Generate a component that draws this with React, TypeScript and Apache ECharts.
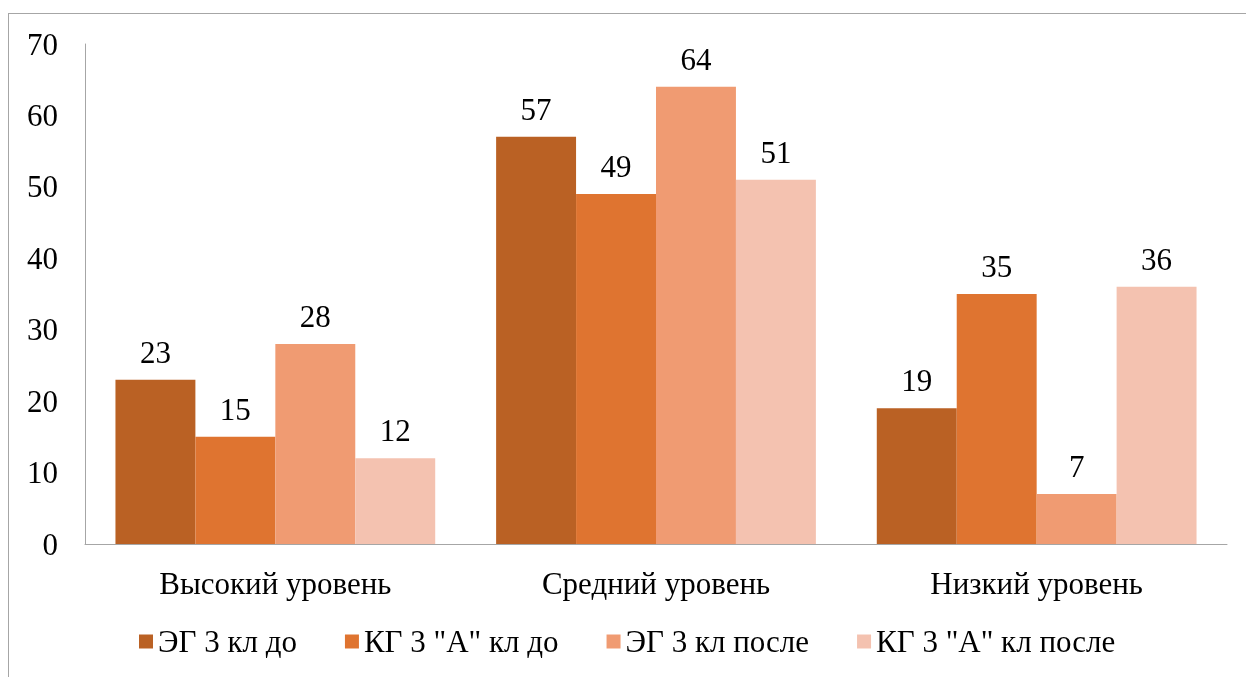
import React, { useEffect, useRef } from "react";
import * as echarts from "echarts";

const categories = ["Высокий уровень", "Средний уровень", "Низкий уровень"];
const seriesNames = ["ЭГ 3 кл до", "КГ 3 \"А\" кл до", "ЭГ 3 кл после", "КГ 3 \"А\" кл после"];
const egBefore = [23, 57, 19];
const kgBefore = [15, 49, 35];
const egAfter = [28, 64, 7];
const kgAfter = [12, 51, 36];
const colors = ["#BA6124", "#DF7430", "#F09B72", "#F4C2B0"];
const yTicks = { min: 0, max: 70, interval: 10 };

const FONT = "serif";
const FS = 31;

export default function App() {
  const ref = useRef<HTMLDivElement>(null);
  useEffect(() => {
    if (!ref.current) return;
    const chart = echarts.init(ref.current, null, { renderer: "svg" });
    const values = [egBefore, kgBefore, egAfter, kgAfter];
    const ts = { fontFamily: FONT, fontSize: FS, color: "#000" };
    chart.setOption({
      animation: false,
      grid: { left: 77, right: 19, top: 36, bottom: 133 },
      legend: {
        left: 126,
        top: 613,
        itemWidth: 14,
        itemHeight: 14,
        itemGap: 48,
        icon: "rect",
        textStyle: { ...ts },
        data: seriesNames,
      },
      xAxis: {
        type: "category",
        data: categories,
        axisLine: { lineStyle: { color: "#A6A6A6", width: 1 } },
        axisTick: { show: false },
        axisLabel: { ...ts, margin: 24 },
      },
      yAxis: {
        type: "value",
        min: yTicks.min,
        max: yTicks.max,
        interval: yTicks.interval,
        axisLine: { show: true, lineStyle: { color: "#A6A6A6", width: 1 } },
        axisTick: { show: false },
        splitLine: { show: false },
        axisLabel: { ...ts, margin: 27 },
      },
      series: seriesNames.map((name, i) => ({
        name,
        type: "bar",
        data: values[i],
        barGap: "0%",
        barCategoryGap: "16%",
        itemStyle: { color: colors[i] },
        label: { show: true, position: "top", distance: 12, ...ts },
      })),
    });
    return () => chart.dispose();
  }, []);
  return (
    <div style={{ position: "relative" }}>
      <div
        style={{
          position: "fixed",
          left: 8,
          top: 13,
          width: 1300,
          height: 720,
          border: "1px solid #A6A6A6",
          pointerEvents: "none",
          boxSizing: "border-box",
        }}
      />
      <div ref={ref} style={{ position: "relative", width: 1238, height: 669 }} />
    </div>
  );
}
